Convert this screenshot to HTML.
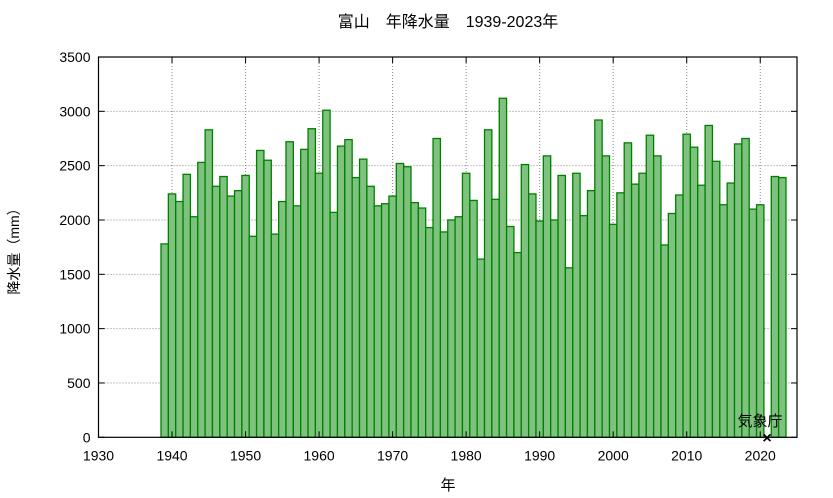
<!DOCTYPE html>
<html><head><meta charset="utf-8"><style>
body{margin:0;background:#fff;}
svg{display:block;font-family:"Liberation Sans","Noto Sans CJK JP",sans-serif;}
</style></head><body>
<svg id="chart" width="833" height="498">
<text x="448" y="27" text-anchor="middle" font-size="16">富山　年降水量　1939-2023年</text>
<g id="grid"></g><g id="bars"></g><g id="axes"></g>
<text x="448" y="490" text-anchor="middle" font-size="15">年</text>
<text transform="translate(19,248) rotate(-90)" text-anchor="middle" font-size="14">降水量（mm）</text>
<text x="760" y="426" text-anchor="middle" font-size="15">気象庁</text>
<text x="767" y="443" text-anchor="middle" font-size="16" font-weight="bold">×</text>
</svg>
<script>
const years=[];for(let y=1939;y<=2023;y++)years.push(y);
const values=[1780,2240,2170,2420,2030,2530,2830,2310,2400,2220,2270,2410,1850,2640,2550,1870,2170,2720,2130,2650,2840,2430,3010,2070,2680,2740,2390,2560,2310,2130,2150,2220,2520,2490,2160,2110,1930,2750,1890,2000,2030,2430,2180,1640,2830,2190,3120,1940,1700,2510,2240,1990,2590,2000,2410,1560,2430,2040,2270,2920,2590,1960,2250,2710,2330,2430,2780,2590,1770,2060,2230,2790,2670,2320,2870,2540,2140,2340,2700,2750,2100,2140,null,2400,2390];
const xTicks=[1930,1940,1950,1960,1970,1980,1990,2000,2010,2020];
const yTicks=[0,500,1000,1500,2000,2500,3000,3500];
const L=98.5,R=797,T=57,B=437.3;
const x=v=>L+(v-1930)*(R-L)/95;
const y=v=>B-v*(B-T)/3500;
const NS="http://www.w3.org/2000/svg";
function mk(tag,attrs,parent){const e=document.createElementNS(NS,tag);for(const k in attrs)e.setAttribute(k,attrs[k]);document.getElementById(parent).appendChild(e);return e;}
yTicks.forEach(t=>{if(t>0&&t<3500){const g=mk('line',{x1:L,x2:R,y1:y(t),y2:y(t),stroke:'#888','stroke-dasharray':'1,2'},'grid');

}
const lb=mk('text',{x:L-8,y:y(t)+5,'text-anchor':'end','font-size':'14'},'axes');lb.textContent=t;


mk('line',{x1:L,x2:L+6,y1:y(t),y2:y(t),stroke:'#000'},'axes');mk('line',{x1:R,x2:R-6,y1:y(t),y2:y(t),stroke:'#000'},'axes');});
xTicks.forEach(t=>{if(t>1930){const g=mk('line',{x1:x(t),x2:x(t),y1:T,y2:B,stroke:'#888','stroke-dasharray':'1,2'},'grid');

}
const lb=mk('text',{x:x(t),y:B+23,'text-anchor':'middle','font-size':'14'},'axes');lb.textContent=t;


mk('line',{x1:x(t),x2:x(t),y1:B,y2:B-6,stroke:'#000'},'axes');mk('line',{x1:x(t),x2:x(t),y1:T,y2:T+6,stroke:'#000'},'axes');});
const w=(R-L)/95;
years.forEach((yr,i)=>{const v=values[i];if(v==null)return;
const b=mk('rect',{x:x(yr)-w/2,y:y(v),width:w,height:B-y(v),fill:'#7fc27f',stroke:'#008000','stroke-width':1.3},'bars');

});
const f=mk('rect',{x:L,y:T,width:R-L,height:B-T,fill:'none',stroke:'#000','stroke-width':1.2},'axes');


</script>
</body></html>
